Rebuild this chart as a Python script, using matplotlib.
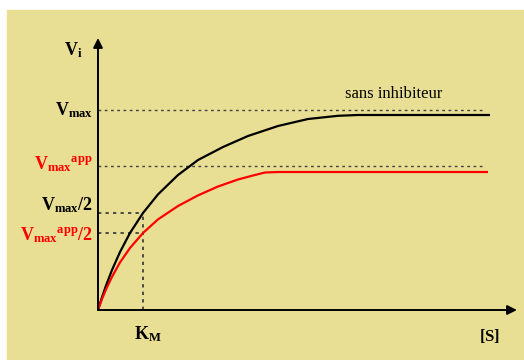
import matplotlib
matplotlib.use('Agg')
import matplotlib.pyplot as plt
from matplotlib.patches import Rectangle

# vitesse en fonction de [S] (unites arbitraires, K_M = 1, Vmax = 1)
s_sans = [0, 0.089, 0.178, 0.311, 0.489, 0.711, 1.0, 1.333, 1.778, 2.222, 2.778,
          3.333, 4.0, 4.667, 5.333, 5.778, 8.711]
v_sans = [0, 0.064, 0.122, 0.20, 0.29, 0.385, 0.485, 0.578, 0.675, 0.75, 0.815,
          0.87, 0.92, 0.955, 0.971, 0.975, 0.975]

s_avec = [0, 0.089, 0.178, 0.311, 0.489, 0.711, 1.0, 1.333, 1.778, 2.222, 2.667,
          3.111, 3.444, 3.711, 4.0, 8.667]
v_avec = [0, 0.055, 0.103, 0.166, 0.238, 0.31, 0.385, 0.453, 0.52, 0.573, 0.6175,
          0.6525, 0.6725, 0.6875, 0.69, 0.69]

vmax = 1.0
vmax_app = 0.72
km = 1.0
s_fin = 8.58

labels_y = [r'$V_{max}$', r'$V_{max}{}^{app}$', r'$V_{max}/2$', r'$V_{max}{}^{app}/2$']
labels_val = [vmax, vmax_app, 0.485, 0.385]
labels_col = ['black', 'red', 'black', 'red']
labels_dy = [0.0, 0.01, 0.04, -0.01]

plt.rcParams['mathtext.fontset'] = 'custom'
plt.rcParams['mathtext.rm'] = 'Liberation Serif:bold'
plt.rcParams['mathtext.bf'] = 'Liberation Serif:bold'
plt.rcParams['mathtext.it'] = 'Liberation Serif:bold'
plt.rcParams['mathtext.default'] = 'rm'

fig = plt.figure(figsize=(5.24, 3.6), dpi=100)
ax = fig.add_axes([0, 0, 1, 1])
ax.patch.set_alpha(0)
ax.set_xlim(-98 / 45, 426 / 45)
ax.set_ylim(-50 / 200, 310 / 200)
ax.axis('off')
ax.add_patch(Rectangle((7 / 524, 0), 517 / 524, 350 / 360, transform=fig.transFigure,
                       color='#E9DF94', zorder=-5, clip_on=False))

# axes avec fleches
ax.annotate('', xy=(0, 1.36), xytext=(0, 0),
            arrowprops=dict(arrowstyle='-|>', lw=1.4, color='black',
                            mutation_scale=14, shrinkA=0, shrinkB=0))
ax.annotate('', xy=(9.31, 0), xytext=(0, 0),
            arrowprops=dict(arrowstyle='-|>', lw=1.4, color='black',
                            mutation_scale=14, shrinkA=0, shrinkB=0))

# lignes pointillees
dash = (0, (2, 2.5))
ax.plot([0, s_fin], [vmax, vmax], color='#444444', lw=1, ls=dash)
ax.plot([0, s_fin], [vmax_app, vmax_app], color='#444444', lw=1, ls=dash)
ax.plot([0, km], [0.485, 0.485], color='#333333', lw=1.2, ls=dash)
ax.plot([0, km], [0.385, 0.385], color='#333333', lw=1.2, ls=dash)
ax.plot([km, km], [0, 0.485], color='#333333', lw=1.2, ls=dash)

# courbes
ax.plot(s_sans, v_sans, color='black', lw=1.6, solid_capstyle='butt')
ax.plot(s_avec, v_avec, color='red', lw=1.6, solid_capstyle='butt')

for lab, val, col, dy in zip(labels_y, labels_val, labels_col, labels_dy):
    ax.text(-0.11, val + dy, lab, color=col, fontsize=13, ha='right', va='center')

ax.text(-0.56, 1.30, r'$V_i$', fontsize=13, ha='center', va='center')
ax.text(1.1, -0.12, r'$K_M$', fontsize=13, ha='center', va='center')
ax.text(8.71, -0.13, r'$[S]$', fontsize=12, ha='center', va='center')
ax.text(6.56, 1.08, 'sans inhibiteur', fontsize=12, family='Liberation Serif',
        ha='center', va='center')

fig.savefig('out.png', dpi=100)
